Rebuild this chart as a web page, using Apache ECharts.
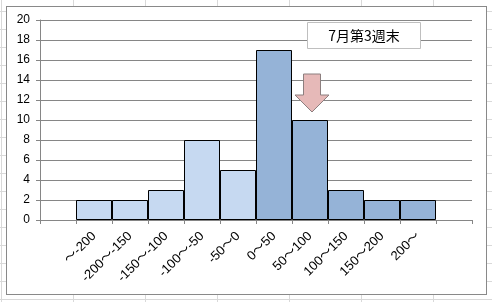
<!DOCTYPE html>
<html>
<head>
<meta charset="utf-8">
<script src="https://cdn.jsdelivr.net/npm/echarts@6/dist/echarts.min.js"></script>
<style>
  html, body { margin: 0; padding: 0; width: 492px; height: 302px; overflow: hidden; background: #fff; }
  #bg { position: absolute; left: 0; top: 0; width: 492px; height: 302px;
        background-image: linear-gradient(to right, #D9D9D9 1px, transparent 1px),
                          linear-gradient(to bottom, #D9D9D9 1px, transparent 1px);
        background-size: 72px 18px; background-position: 1px 11px; }
  #frame { position: absolute; left: 6px; top: 6px; width: 479px; height: 287px;
           border: 1px solid #898989; background: #fff; }
  #chart { position: absolute; left: 0; top: 0; width: 492px; height: 302px; }
</style>
</head>
<body>
<div id="bg"></div>
<div id="frame"></div>
<div id="chart"></div>
<script>
// Data
const categories = ['～-200', '-200～-150', '-150～-100', '-100～-50', '-50～0', '0～50', '50～100', '100～150', '150～200', '200～'];
const counts = [2, 2, 3, 8, 5, 17, 10, 3, 2, 2];
const yTicks = [0, 2, 4, 6, 8, 10, 12, 14, 16, 18, 20];
const titleText = '7月第3週末';
const arrowCategory = '50～100';

const lightBlue = '#C6D9F1';
const darkBlue = '#95B3D7';

// padded axis (empty slot at each end)
const axisCats = [''].concat(categories, ['']);
const barData = [null].concat(counts.map((v, i) => ({
  value: v,
  itemStyle: { color: categories[i].startsWith('-') || categories[i].startsWith('～') ? lightBlue : darkBlue }
})), [null]);

const chart = echarts.init(document.getElementById('chart'), null, { renderer: 'canvas' });
const option = {
  backgroundColor: 'transparent',
  animation: false,
  grid: { left: 40, right: 20, top: 20, bottom: 82, containLabel: false },
  xAxis: {
    type: 'category',
    data: axisCats,
    boundaryGap: true,
    axisLine: { lineStyle: { color: '#868686', width: 1 } },
    axisTick: { show: true, length: 4, lineStyle: { color: '#868686' } },
    axisLabel: {
      interval: 0, rotate: 45, margin: 14, color: '#000',
      fontSize: 13, fontFamily: 'Liberation Sans, Noto Sans CJK JP'
    }
  },
  yAxis: {
    type: 'value',
    min: yTicks[0], max: yTicks[yTicks.length - 1], interval: 2,
    axisLine: { show: true, lineStyle: { color: '#868686', width: 1 } },
    axisTick: { show: true, length: 4, lineStyle: { color: '#868686' } },
    splitLine: { lineStyle: { color: '#868686', width: 1 } },
    axisLabel: { margin: 10, color: '#000', fontSize: 12, fontFamily: 'Liberation Sans' }
  },
  series: [{
    type: 'bar',
    data: barData,
    barCategoryGap: 0,
    barGap: 0,
    itemStyle: { borderColor: '#000', borderWidth: 1 }
  }]
};
chart.setOption(option);

// annotation: title box and arrow placed relative to the chart's scales
const idx = axisCats.indexOf(arrowCategory);
const val = counts[categories.indexOf(arrowCategory)];
const tip = chart.convertToPixel({ gridIndex: 0 }, [idx, val]);
const cx = tip[0] + 2, ty = tip[1] - 8;
const arrowPts = [
  [cx - 8.5, ty - 38], [cx + 8.5, ty - 38], [cx + 8.5, ty - 17],
  [cx + 17, ty - 17], [cx, ty], [cx - 17, ty - 17], [cx - 8.5, ty - 17]
];
chart.setOption({
  graphic: [
    {
      type: 'polygon', z: 100,
      shape: { points: arrowPts },
      style: { fill: '#E6B9B8', stroke: '#8C7F7F', lineWidth: 1 }
    },
    {
      type: 'rect', z: 100,
      shape: { x: 307.5, y: 22.5, width: 113, height: 26 },
      style: { fill: '#fff', stroke: '#BFBFBF', lineWidth: 1 }
    },
    {
      type: 'text', z: 101,
      x: 364, y: 36,
      style: { text: titleText, fill: '#000', font: '14px "Noto Sans CJK JP"', align: 'center', verticalAlign: 'middle' }
    }
  ]
});
</script>
</body>
</html>
